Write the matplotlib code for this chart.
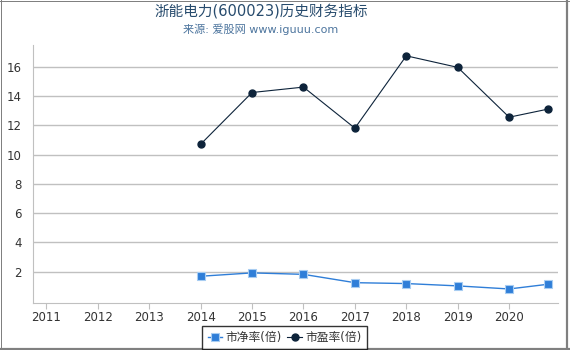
import matplotlib
import matplotlib.pyplot as plt
from matplotlib.lines import Line2D

matplotlib.use('Agg')

plt.rcParams['font.family'] = ['DejaVu Sans', 'Noto Sans CJK SC']

# data
pb_x = [2014, 2015, 2016, 2017, 2018, 2019, 2020, 2020.75]
pb = [1.68, 1.91, 1.81, 1.24, 1.18, 1.02, 0.81, 1.13]
pe_x = [2014, 2015, 2016, 2017, 2018, 2019, 2020, 2020.75]
pe = [10.71, 14.25, 14.62, 11.81, 16.76, 15.97, 12.56, 13.11]
years = [2011, 2012, 2013, 2014, 2015, 2016, 2017, 2018, 2019, 2020]
yticks = [2, 4, 6, 8, 10, 12, 14, 16]

fig = plt.figure(figsize=(5.7, 3.5), dpi=100)
ax = fig.add_axes([33/570, 1 - 303/350, 525/570, 258/350])

ax.plot(pb_x, pb, color='#2f7ed8', lw=1, marker='s', ms=5.5,
        markeredgecolor='#a8cdf2', markeredgewidth=0.8, label='市净率(倍)', zorder=3)
ax.plot(pe_x, pe, color='#0d233a', lw=0.8, marker='o', ms=5,
        label='市盈率(倍)', zorder=3)

ax.set_xlim(2010.74, 2020.95)
ax.set_ylim(-0.15, 17.5)
ax.set_xticks(years)
ax.set_xticklabels([str(y) for y in years])
ax.set_yticks(yticks)
ax.set_yticklabels([str(v) for v in yticks])
ax.tick_params(axis='x', length=4, color='#c0c0c0', labelsize=8.5, labelcolor='#333333', pad=2)
ax.tick_params(axis='y', length=0, labelsize=8.5, labelcolor='#333333', pad=8)
ax.grid(axis='y', color='#c0c0c0', lw=1)
ax.set_axisbelow(True)
for s in ['top', 'right']:
    ax.spines[s].set_visible(False)
ax.spines['left'].set_color('#c0c0c0')
ax.spines['bottom'].set_color('#c0c0c0')

fig.text(261/570, 1 - 11/350, '浙能电力(600023)历史财务指标', ha='center', va='center',
         fontsize=10.5, color='#274b6d')
fig.text(261/570, 1 - 29/350, '来源: 爱股网 www.iguuu.com', ha='center', va='center',
         fontsize=8, color='#4d759e')

leg = fig.legend(loc='center', bbox_to_anchor=(284.5/570, 1 - 337.5/350), ncol=2,
                 fontsize=8.5, frameon=True, fancybox=False, edgecolor='black',
                 handlelength=1.2, handletextpad=0.3, columnspacing=0.5,
                 borderpad=0.45, borderaxespad=0)
leg.get_frame().set_linewidth(1)
for t in leg.get_texts():
    t.set_color('#333333')

# gray frame: thin top/left, thicker right/bottom
fw, fh = 570, 350
for (x0, y0, x1, y1, w) in [(0.5, 0, 0.5, fh, 1), (0, fh - 0.5, fw, fh - 0.5, 1),
                            (567, 0, 567, fh, 2.2), (0, 1.2, fw, 1.2, 2.2)]:
    fig.add_artist(Line2D([x0 / fw, x1 / fw], [y0 / fh, y1 / fh],
                          transform=fig.transFigure, color='#808080', lw=w * 0.72))

fig.savefig('out.png', dpi=100)
